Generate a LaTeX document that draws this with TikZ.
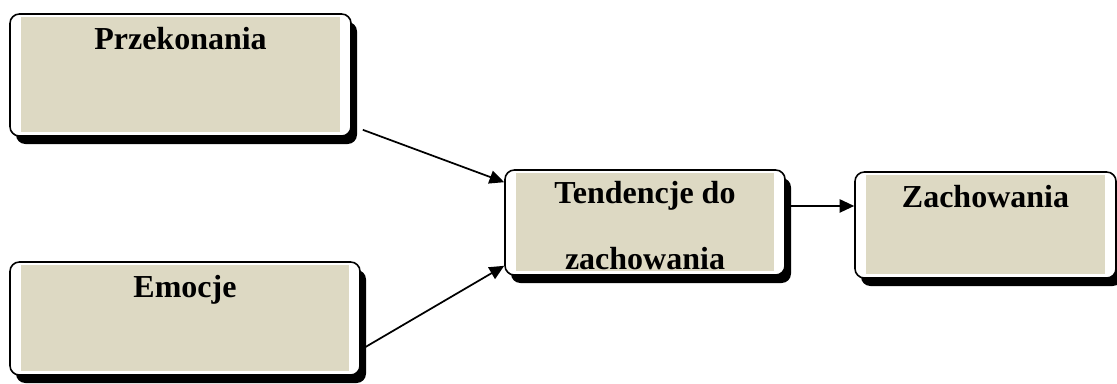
\documentclass[tikz,border=0pt]{standalone}
\usepackage{fontspec}
\setmainfont{Liberation Serif}
\usetikzlibrary{positioning,shadows,arrows.meta}
\definecolor{boxtan}{RGB}{221,217,195}
\tikzset{
 box/.style={draw, line width=1.2pt, rounded corners=7pt, fill=white,
  drop shadow={shadow xshift=4.5pt, shadow yshift=-6pt, fill=black, opacity=1},
  path picture={\fill[boxtan, sharp corners] ([xshift=8.5pt,yshift=-2pt]path picture bounding box.north west)
   rectangle ([xshift=-8.5pt,yshift=3pt]path picture bounding box.south east);}},
 boxtext/.style={font=\fontsize{24}{49}\selectfont\bfseries, align=center, inner sep=0pt},
 arrow/.style={-{Triangle[length=11pt,width=10pt]}, line width=1.3pt}
}
\begin{document}
\begin{tikzpicture}[x=0.75pt,y=-0.75pt]
 \useasboundingbox (0,0) rectangle (1117,383);
 \node[box, minimum width=255.75pt, minimum height=91.5pt] (przek) at (180.5,75) {};
 \node[box, minimum width=262.5pt, minimum height=84.75pt] (emoc) at (185,318.5) {};
 \node[box, minimum width=210pt, minimum height=78.75pt] (tend) at (645,222.5) {};
 \node[box, minimum width=195.75pt, minimum height=79.5pt] (zach) at (985.5,225) {};
 % labels, baseline below the top edge (last line for tend)
 \node[boxtext, below=27.5pt of przek.north, anchor=base] (przek-t) {Przekonania};
 \node[boxtext, below=27.5pt of emoc.north, anchor=base] (emoc-t) {Emocje};
 \node[boxtext, below=75pt of tend.north, anchor=base] (tend-t) {Tendencje do\\zachowania};
 \node[boxtext, below=27.5pt of zach.north, anchor=base] (zach-t) {Zachowania};
 \coordinate[above=12.4pt of tend.east] (tend-out);
 \draw[arrow] ([shift={(8.25pt,5.25pt)}]przek.south east) -- ([yshift=-9.75pt]tend.north west);
 \draw[arrow] ([shift={(3.75pt,21.75pt)}]emoc.south east) -- ([yshift=7.5pt]tend.south west);
 \draw[arrow] (tend-out) -- (tend-out -| zach.west);
\end{tikzpicture}
\end{document}
